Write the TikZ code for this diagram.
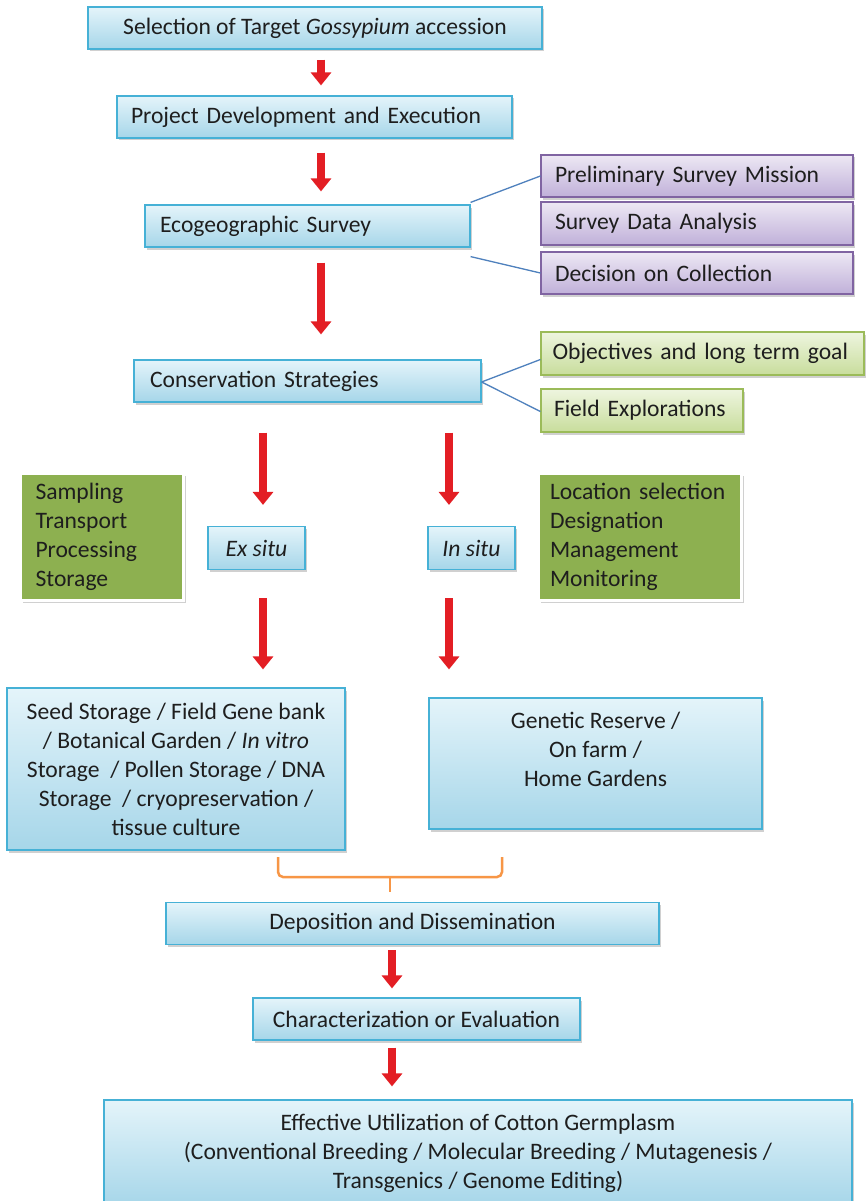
\documentclass[tikz,border=0pt]{standalone}
\usepackage{fontspec}
\setmainfont{Carlito}
\usetikzlibrary{arrows.meta,shadows,calc}
\definecolor{bluebd}{HTML}{46B1D6}
\definecolor{bluetop}{HTML}{E4F4FA}
\definecolor{bluebot}{HTML}{A6D6E9}
\definecolor{purbd}{HTML}{8064A2}
\definecolor{purtop}{HTML}{EDE8F4}
\definecolor{purbot}{HTML}{C0B0D9}
\definecolor{lgbd}{HTML}{9BBB59}
\definecolor{lgtop}{HTML}{EEF5DF}
\definecolor{lgbot}{HTML}{C8DD9C}
\definecolor{dgfill}{HTML}{8DB050}
\definecolor{arrred}{HTML}{E31E24}
\definecolor{linkblue}{HTML}{4F81BD}
\definecolor{braceor}{HTML}{F79646}
\definecolor{txt}{HTML}{1E1E1E}
\tikzset{
  base/.style={line width=1.2pt, inner sep=0pt, text=txt,
    font=\fontsize{23.6}{29}\selectfont,
    drop shadow={shadow xshift=2pt, shadow yshift=-2.5pt, opacity=0.3, fill=black!60}},
  sz/.style 2 args={minimum width=#1pt, minimum height=#2pt},
  bluebox/.style={base, draw=bluebd, top color=bluetop, bottom color=bluebot},
  purbox/.style={base, draw=purbd, top color=purtop, bottom color=purbot},
  lgbox/.style={base, draw=lgbd, top color=lgtop, bottom color=lgbot},
  dgbox/.style={base, draw=white, line width=3pt, fill=dgfill},
  redarr/.style={draw=arrred, line width=8pt, -{Triangle[length=13pt,width=20pt]}},
  link/.style={draw=linkblue, line width=1.3pt},
  bracket/.style={draw=braceor, line width=2.5pt},
}
\begin{document}
\begin{tikzpicture}[x=1pt,y=-1pt]
\useasboundingbox (0,0) rectangle (865,1201);
\fill[white] (0,0) rectangle (865,1201);

\node[bluebox, sz={454}{42}, align=center] (sel) at (315,28) {Selection of Target \textit{Gossypium} accession};
\node[bluebox, sz={395}{42}, text width=367pt, align=left] (proj) at (314.5,117) {Project Development and Execution};
\node[bluebox, sz={325}{42}, text width=295pt, align=left] (eco) at (307.5,226) {Ecogeographic Survey};
\node[purbox, sz={312}{42}, text width=284pt, align=left] (pre) at (697,176) {Preliminary Survey Mission};
\node[purbox, sz={312}{43}, text width=284pt, align=left] (sda) at (697,223.5) {Survey Data Analysis};
\node[purbox, sz={312}{42}, text width=284pt, align=left] (dec) at (697,273) {Decision on Collection};
\node[bluebox, sz={347}{42}, text width=315pt, align=left] (cons) at (307.5,381) {Conservation Strategies};
\node[lgbox, sz={323}{43}, text width=300pt, align=left] (obj) at (702.5,353.5) {Objectives and long term goal};
\node[lgbox, sz={202}{43}, text width=176pt, align=left] (fld) at (642,410.5) {Field Explorations};
\node[dgbox, sz={163}{127}, text width=133pt, align=left] (lgl) at (102,536.5) {Sampling\\Transport\\Processing\\Storage};
\node[dgbox, sz={203}{127}, text width=180pt, align=left] (rgl) at (640,536.5) {Location selection\\Designation\\Management\\Monitoring};
\node[bluebox, sz={97}{43}, align=center] (exs) at (256.5,548) {\textit{Ex situ}};
\node[bluebox, sz={87}{43}, align=center] (ins) at (471.5,548) {\textit{In situ}};
\node[bluebox, sz={338}{162}, align=center] (seed) at (176,769) {Seed Storage / Field Gene bank\\/ Botanical Garden / \textit{In vitro}\\Storage~ / Pollen Storage / DNA\\Storage~ / cryopreservation /\\tissue culture};
\node[bluebox, sz={333}{131}, align=center] (gen) at (595.5,763.5) {Genetic Reserve /\\On farm /\\Home Gardens\\\mbox{}};
\node[bluebox, sz={493}{42}, align=center] (dep) at (412.5,923.5) {Deposition and Dissemination};
\node[bluebox, sz={327}{42}, align=center] (char) at (416.5,1019) {Characterization or Evaluation};
\node[bluebox, sz={748}{106}, align=center] (eff) at (478,1153) {Effective Utilization of Cotton Germplasm\\(Conventional Breeding / Molecular Breeding / Mutagenesis /\\Transgenics / Genome Editing)};

% links to side boxes
\draw[link] ([yshift=2pt]eco.north east) -- (pre.west);
\draw[link] ([yshift=-9pt]eco.south east) -- (dec.west);
\draw[link] ([yshift=-1pt]cons.east) -- ([yshift=-6pt]obj.west);
\draw[link] ([yshift=-1pt]cons.east) -- ([yshift=-1pt]fld.west);

% red arrows
\coordinate (ca) at (321,0);
\coordinate (cl) at (263,0);
\coordinate (cr) at (449,0);
\coordinate (cb) at (392,0);
\draw[redarr, shorten <=10pt, shorten >=10pt] (sel.south -| ca) -- (proj.north -| ca);
\draw[redarr, shorten <=14pt, shorten >=13pt] (proj.south -| ca) -- (eco.north -| ca);
\draw[redarr, shorten <=15pt, shorten >=25pt] (eco.south -| ca) -- (cons.north -| ca);
\draw[redarr, shorten <=30pt, shorten >=21pt] (cons.south -| cl) -- (exs.north -| cl);
\draw[redarr, shorten <=30pt, shorten >=21pt] (cons.south -| cr) -- (ins.north -| cr);
\draw[redarr, shorten <=28pt, shorten >=18pt] (exs.south -| cl) -- (seed.north -| cl);
\draw[redarr, shorten <=28pt, shorten >=28pt] (ins.south -| cr) -- (gen.north -| cr);
\draw[redarr, shorten <=5pt, shorten >=9pt] (dep.south -| cb) -- (char.north -| cb);
\draw[redarr, shorten <=7pt, shorten >=13pt] (char.south -| cb) -- (eff.north -| cb);

% bracket
\coordinate (bl) at (278,857);
\coordinate (br) at (502,857);
\coordinate (bm) at (390,877);
\draw[bracket, rounded corners=5pt] (bl) -- (bl |- bm) -- (br |- bm) -- (br);
\draw[bracket] (bm) -- ([yshift=-15pt]bm);
\end{tikzpicture}
\end{document}
